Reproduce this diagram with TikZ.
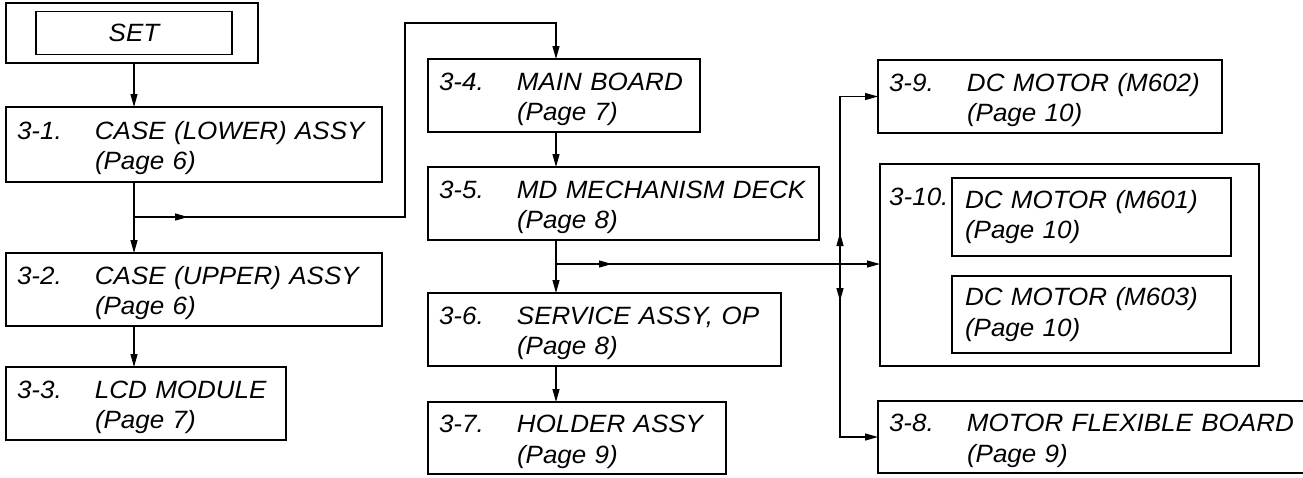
\documentclass[tikz,border=0pt]{standalone}
\usepackage{fontspec}
\setmainfont{Liberation Sans}[FakeStretch=1.04]
\usepackage{tikz}
\usetikzlibrary{arrows.meta, positioning, calc}
\newcommand{\stepno}[1]{\rule{0pt}{25pt}\makebox[78pt][l]{#1}}
\tikzstyle{stepbox} = [rectangle,
anchor=north west,
line width=2.4pt,
draw=black,
inner xsep=11pt,
inner ysep=0pt,
outer sep=0pt,
align=left,
font=\fontsize{25}{30.5}\selectfont\itshape]
\tikzstyle{subbox} = [rectangle,
anchor=north west,
line width=1.2pt,
draw=black,
inner xsep=13pt,
inner ysep=0pt,
outer sep=0pt,
align=left,
font=\fontsize{25}{30.5}\selectfont\itshape]
\tikzstyle{steplabel} = [anchor=base west, inner sep=0pt,
font=\fontsize{25}{30.5}\selectfont\itshape]
\tikzstyle{arrow} = [line width=1.2pt,-{Triangle[length=13pt,width=7pt]}]

\begin{document}
\begin{tikzpicture}[x=1pt, y=-1pt]
                \useasboundingbox (0,0) rectangle (1303,477);
                % left column
                \node (set) [stepbox, minimum width=252pt, minimum height=60pt] at (6,3) {};
                \node (setin) [subbox, anchor=center, align=center, minimum width=196pt, minimum height=43pt] at ($(set)+(2,0)$) {SET};
                \node (n31) [stepbox, below=44pt of set.south west, anchor=north west, minimum width=376pt, minimum height=75pt, text width=354pt] {\stepno{3-1.}CASE (LOWER) ASSY\\\hspace*{78pt}(Page 6)};
                \node (n32) [stepbox, below=71pt of n31.south west, anchor=north west, minimum width=376pt, minimum height=73pt, text width=354pt] {\stepno{3-2.}CASE (UPPER) ASSY\\\hspace*{78pt}(Page 6)};
                \node (n33) [stepbox, below=41pt of n32.south west, anchor=north west, minimum width=280pt, minimum height=73pt, text width=258pt] {\stepno{3-3.}LCD MODULE\\\hspace*{78pt}(Page 7)};

                % middle column
                \node (n34) [stepbox, minimum width=272pt, minimum height=73pt, text width=250pt] at (428,59) {\stepno{3-4.}MAIN BOARD\\\hspace*{78pt}(Page 7)};
                \node (n35) [stepbox, below=35pt of n34.south west, anchor=north west, minimum width=391pt, minimum height=73pt, text width=369pt] {\stepno{3-5.}MD MECHANISM DECK\\\hspace*{78pt}(Page 8)};
                \node (n36) [stepbox, below=53pt of n35.south west, anchor=north west, minimum width=353pt, minimum height=73pt, text width=331pt] {\stepno{3-6.}SERVICE ASSY, OP\\\hspace*{78pt}(Page 8)};
                \node (n37) [stepbox, below=36pt of n36.south west, anchor=north west, minimum width=298pt, minimum height=72pt, text width=276pt] {\stepno{3-7.}HOLDER ASSY\\\hspace*{78pt}(Page 9)};

                % right column
                \node (n39) [stepbox, minimum width=344pt, minimum height=73pt, text width=322pt] at (878,60) {\stepno{3-9.}DC MOTOR (M602)\\\hspace*{78pt}(Page 10)};
                \node (n310) [stepbox, minimum width=379pt, minimum height=202pt] at (880,164) {};
                \node (n310no) [steplabel] at (889,205) {3-10.};
                \node (n310a) [subbox, minimum width=279pt, minimum height=78pt, text width=253pt] at (952,178) {DC MOTOR (M601)\\(Page 10)};
                \node (n310b) [subbox, minimum width=279pt, minimum height=77pt, text width=253pt] at (952,276) {DC MOTOR (M603)\\(Page 10)};
                \node (n38) [stepbox, minimum width=430pt, minimum height=72pt, text width=408pt] at (878,401) {\stepno{3-8.}MOTOR FLEXIBLE BOARD\\\hspace*{78pt}(Page 9)};

                \coordinate (lcol) at (134,0);
                \coordinate (col) at (556,0);
                \coordinate (bus) at (840,0);
                \coordinate (hop) at (405,23);
                \coordinate (j1) at (134,217);
                \coordinate (j2) at (556,264);

                \draw [arrow] (lcol |- set.south) -- (lcol |- n31.north);
                \draw [arrow] (lcol |- n31.south) -- (lcol |- n32.north);
                \draw [arrow] (lcol |- n32.south) -- (lcol |- n33.north);
                \draw [arrow] (j1) -| (hop) -| (col |- n34.north);
                \draw [arrow] (j1) -- ++(54,0);

                \draw [arrow] (col |- n34.south) -- (col |- n35.north);
                \draw [arrow] (col |- n35.south) -- (col |- n36.north);
                \draw [arrow] (col |- n36.south) -- (col |- n37.north);
                \draw [arrow] (j2) -- (j2 -| n310.west);
                \draw [arrow] (j2) -- ++(56,0);

                \draw [arrow] (bus |- j2) |- (n39);
                \draw [arrow] (bus |- j2) |- (n38);
                \draw [arrow] (bus |- j2) -- ++(0,-31);
                \draw [arrow] (bus |- j2) -- ++(0,37);
            \end{tikzpicture}
\end{document}
